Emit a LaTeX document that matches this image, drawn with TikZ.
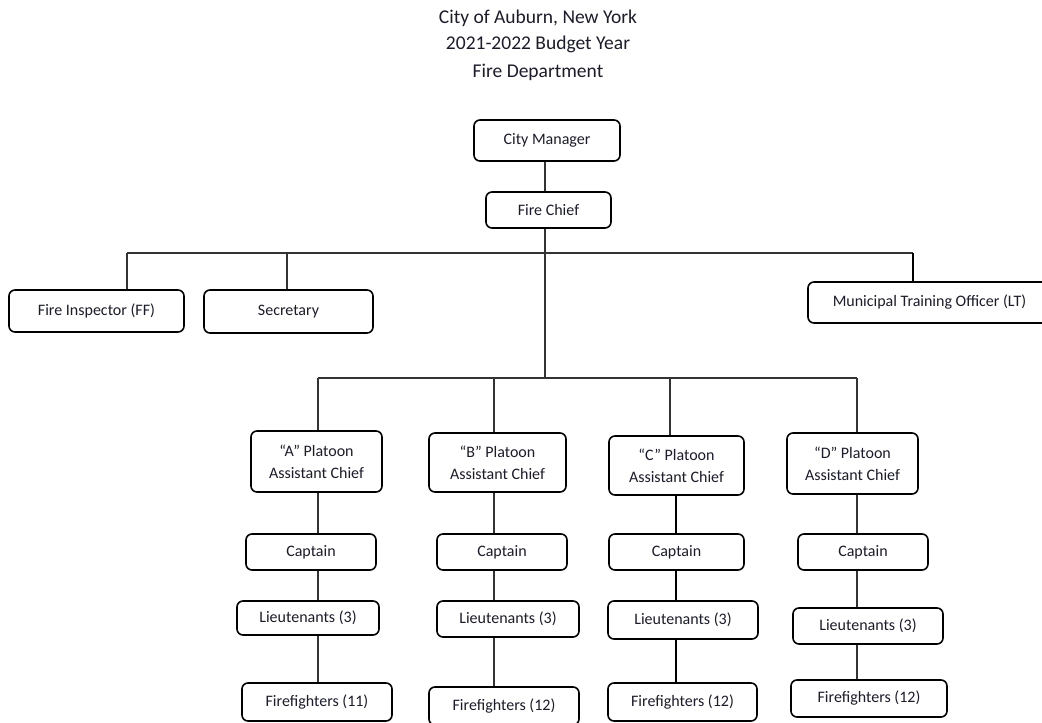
\documentclass[tikz,border=0pt]{standalone}
\usepackage{fontspec}
\setmainfont{Carlito}
\definecolor{ink}{RGB}{28,28,42}
\begin{document}
\begin{tikzpicture}[x=1pt,y=-1pt,
  box/.style={draw=black, line width=1.6pt, rounded corners=6pt, fill=white,
    text=ink, font=\fontsize{16}{22}\selectfont, align=center, inner sep=0pt},
  wire/.style={draw=black!80, line width=1.1pt},
  heavywire/.style={draw=black, line width=1.7pt},
  title/.style={text=ink, font=\fontsize{19.5}{24}\selectfont, anchor=base, inner sep=0pt}]
\useasboundingbox (0,0) rectangle (1042,723);
\clip (0,0) rectangle (1042,723);
\fill[white] (0,0) rectangle (1042,723);

% heading
\node[title] (t1) at (538,23) {City of Auburn, New York};
\node[title] (t2) at (538,49.5) {2021-2022 Budget Year};
\node[title] (t3) at (538,77) {Fire Department};

% command staff
\node[box, minimum width=146pt, minimum height=41pt] (cm) at (547,140.5) {City Manager};
\node[box, minimum width=125pt, minimum height=36pt] (fc) at (548.5,210) {Fire Chief};

% staff positions
\node[box, minimum width=175pt, minimum height=42pt] (fi) at (96.5,311) {Fire Inspector (FF)};
\node[box, minimum width=169pt, minimum height=43pt] (sec) at (288.5,311.5) {Secretary};
\node[box, minimum width=243pt, minimum height=41pt] (mto) at (929.5,302.5) {Municipal Training Officer (LT)};

% platoon chiefs
\node[box, minimum width=131pt, minimum height=61pt] (pa) at (316.5,461.5) {“A” Platoon\\Assistant Chief};
\node[box, minimum width=137pt, minimum height=59pt] (pb) at (497.5,462.5) {“B” Platoon\\Assistant Chief};
\node[box, minimum width=135pt, minimum height=59pt] (pc) at (676.5,465.5) {“C” Platoon\\Assistant Chief};
\node[box, minimum width=131pt, minimum height=61pt] (pd) at (852.5,463.5) {“D” Platoon\\Assistant Chief};

% captains
\node[box, minimum width=130pt, minimum height=36pt] (capa) at (311,552) {Captain};
\node[box, minimum width=130pt, minimum height=36pt] (capb) at (502,552) {Captain};
\node[box, minimum width=135pt, minimum height=36pt] (capc) at (676.5,552) {Captain};
\node[box, minimum width=130pt, minimum height=36pt] (capd) at (863,552) {Captain};

% lieutenants
\node[box, minimum width=142pt, minimum height=34pt] (lta) at (308,618) {Lieutenants (3)};
\node[box, minimum width=142pt, minimum height=36pt] (ltb) at (508,619) {Lieutenants (3)};
\node[box, minimum width=150pt, minimum height=38pt] (ltc) at (683,620) {Lieutenants (3)};
\node[box, minimum width=150pt, minimum height=36pt] (ltd) at (868,626) {Lieutenants (3)};

% firefighters
\node[box, minimum width=150pt, minimum height=38pt] (ffa) at (317,702) {Firefighters (11)};
\node[box, minimum width=150pt, minimum height=38pt] (ffb) at (504,706) {Firefighters (12)};
\node[box, minimum width=149pt, minimum height=38pt] (ffc) at (682.5,702) {Firefighters (12)};
\node[box, minimum width=156pt, minimum height=37pt] (ffd) at (869,698.5) {Firefighters (12)};

% bus points
\coordinate (bus1) at (545,253);
\coordinate (bus2) at (545,378);
\coordinate (dfi) at (127,253);
\coordinate (dsec) at (287,253);
\coordinate (dmto) at (913,253);
\coordinate (da) at (318,378);
\coordinate (db) at (494,378);
\coordinate (dc) at (670,378);
\coordinate (dd) at (857,378);
\coordinate (cc) at (676,378);

% trunk
\draw[wire] (cm.south -| bus1) -- (fc.north -| bus1);
\draw[wire] (fc.south -| bus1) -- (bus2);

% staff bus
\draw[wire] (dfi) -- (dmto);
\draw[wire] (dfi) -- (dfi |- fi.north);
\draw[wire] (dsec) -- (dsec |- sec.north);
\draw[heavywire] (dmto) -- (dmto |- mto.north);

% platoon bus
\draw[wire] (da) -- (dd);
\draw[wire] (da) -- (da |- pa.north);
\draw[wire] (db) -- (db |- pb.north);
\draw[wire] (dc) -- (dc |- pc.north);
\draw[wire] (dd) -- (dd |- pd.north);

% platoon chains
\foreach \p/\cap/\lt/\ff/\x/\st in {pa/capa/lta/ffa/da/wire, pb/capb/ltb/ffb/db/wire, pc/capc/ltc/ffc/cc/heavywire, pd/capd/ltd/ffd/dd/wire}{
  \draw[\st] (\p.south -| \x) -- (\cap.north -| \x);
  \draw[\st] (\cap.south -| \x) -- (\lt.north -| \x);
  \draw[\st] (\lt.south -| \x) -- (\ff.north -| \x);
}
\end{tikzpicture}
\end{document}
